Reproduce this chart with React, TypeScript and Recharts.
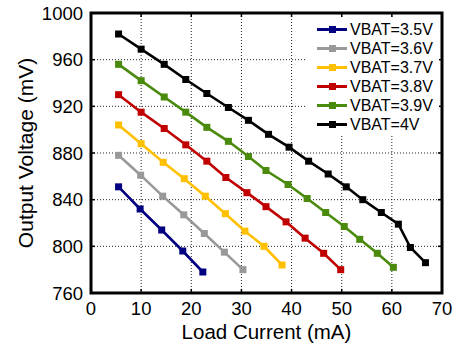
import React from 'react';
import {
  LineChart,
  Line,
  XAxis,
  YAxis,
  CartesianGrid,
  Legend,
  ReferenceArea,
  ReferenceLine,
} from 'recharts';

// Load current (mA) and output voltage (mV) for each battery voltage
const current35 = [5.5, 9.8, 14.1, 18.3, 22.3];
const vout35 = [851, 832, 814, 796, 778];

const current36 = [5.5, 9.9, 14.3, 18.5, 22.6, 26.6, 30.3];
const vout36 = [878, 861, 843, 827, 811, 795, 780];

const current37 = [5.5, 10, 14.4, 18.6, 22.8, 26.8, 30.7, 34.5, 38.1];
const vout37 = [904, 888, 872, 858, 843, 828, 813, 800, 784];

const current38 = [5.5, 10, 14.6, 18.9, 23.1, 26.9, 31.1, 34.9, 38.9, 42.7, 46.4, 49.8];
const vout38 = [930, 915, 901, 887, 873, 859, 846, 834, 821, 807, 794, 780];

const current39 = [5.5, 10, 14.6, 18.9, 23.1, 27.4, 31.4, 34.9, 39.3, 43.1, 46.8, 50.5, 53.6, 57.1, 60.3];
const vout39 = [956, 942, 928, 915, 902, 890, 877, 865, 853, 841, 829, 817, 806, 794, 782];

const current40 = [5.5, 10, 14.6, 18.9, 23.1, 27.4, 31.4, 35.4, 39.5, 43.4, 47.3, 50.9, 54.2, 57.9, 61.3, 63.7, 66.7];
const vout40 = [982, 969, 956, 943, 931, 919, 908, 896, 885, 873, 862, 851, 840, 829, 819, 799, 786];

const seriesNames = ['VBAT=3.5V', 'VBAT=3.6V', 'VBAT=3.7V', 'VBAT=3.8V', 'VBAT=3.9V', 'VBAT=4V'];
const seriesColors = ['#000080', '#999999', '#FFC000', '#C00000', '#4A8A0C', '#000000'];
const seriesCurrents = [current35, current36, current37, current38, current39, current40];
const seriesVoltages = [vout35, vout36, vout37, vout38, vout39, vout40];

const xTicks = [0, 10, 20, 30, 40, 50, 60, 70];
const yTicks = [760, 800, 840, 880, 920, 960, 1000];

const FONT = '"Liberation Sans", Arial, Helvetica, sans-serif';

const series = seriesNames.map((name, i) => ({
  name,
  color: seriesColors[i],
  data: seriesCurrents[i].map((x, j) => ({ x, y: seriesVoltages[i][j] })),
}));

const squareDot = (color: string) => (props: any) => {
  const { cx, cy, index } = props;
  if (cx == null || cy == null) return <g key={index} />;
  return <rect key={index} x={cx - 3.5} y={cy - 3.5} width={7} height={7} fill={color} />;
};

const XTitle = (props: any) => {
  const { viewBox } = props;
  const cx = viewBox.x + viewBox.width / 2;
  return (
    <text x={cx} y={339} textAnchor="middle" fontSize={20.5} fontFamily={FONT} fill="#000">
      Load Current (mA)
    </text>
  );
};

const YTitle = (props: any) => {
  const { viewBox } = props;
  const cy = viewBox.y + viewBox.height / 2;
  const cx = 33;
  return (
    <text
      x={cx}
      y={cy}
      transform={`rotate(-90, ${cx}, ${cy})`}
      textAnchor="middle"
      fontSize={21}
      fontFamily={FONT}
      fill="#000"
    >
      Output Voltage (mV)
    </text>
  );
};

const LegendBox = (props: any) => {
  const payload = props.payload || [];
  return (
    <div
      style={{
        background: '#fff',
        paddingTop: 3,
        paddingBottom: 2,
        fontFamily: FONT,
        fontSize: 16,
        color: '#000',
      }}
    >
      {payload.map((entry: any) => (
        <div key={entry.value} style={{ display: 'flex', alignItems: 'center', height: 19 }}>
          <svg width={43} height={19} style={{ display: 'block' }}>
            <line x1={10} y1={9.5} x2={40} y2={9.5} stroke={entry.color} strokeWidth={3} />
            <rect x={22} y={6} width={7} height={7} fill={entry.color} />
          </svg>
          <span style={{ lineHeight: '19px', whiteSpace: 'nowrap' }}>{entry.value}</span>
        </div>
      ))}
    </div>
  );
};

export default function App() {
  return (
    <div style={{ position: 'absolute', left: 0, top: 0, width: 458, height: 345, background: '#fff' }}>
      <LineChart
        width={458}
        height={345}
        margin={{ top: 13, right: 16, bottom: 0, left: 0 }}
        style={{ fontFamily: FONT }}
      >
        <CartesianGrid
          stroke="#222"
          strokeWidth={1}
          strokeDasharray="1 2"
          verticalValues={[10, 20, 30, 40, 50, 60]}
          horizontalValues={[800, 840, 880, 920, 960]}
        />
        <XAxis
          dataKey="x"
          type="number"
          domain={[0, 70]}
          ticks={xTicks}
          allowDataOverflow
          height={52}
          axisLine={false}
          tickLine={false}
          tickSize={7}
          tickMargin={2}
          tick={{ fontSize: 18.5, fill: '#000', fontFamily: FONT }}
          label={<XTitle />}
        />
        <YAxis
          type="number"
          domain={[760, 1000]}
          ticks={yTicks}
          allowDataOverflow
          width={91}
          axisLine={false}
          tickLine={false}
          tickSize={6}
          tickMargin={2}
          tick={{ fontSize: 18.5, fill: '#000', fontFamily: FONT }}
          label={<YTitle />}
        />
        {/* inward tick marks on all four sides */}
        {xTicks.slice(1, -1).map((t) => (
          <ReferenceLine
            key={`xb${t}`}
            segment={[{ x: t, y: 760 }, { x: t, y: 763.5 }]}
            stroke="#000"
            strokeWidth={1.5}
          />
        ))}
        {xTicks.slice(1, -1).map((t) => (
          <ReferenceLine
            key={`xt${t}`}
            segment={[{ x: t, y: 1000 }, { x: t, y: 996.5 }]}
            stroke="#000"
            strokeWidth={1.5}
          />
        ))}
        {yTicks.slice(1, -1).map((t) => (
          <ReferenceLine
            key={`yl${t}`}
            segment={[{ x: 0, y: t }, { x: 0.8, y: t }]}
            stroke="#000"
            strokeWidth={1.5}
          />
        ))}
        {yTicks.slice(1, -1).map((t) => (
          <ReferenceLine
            key={`yr${t}`}
            segment={[{ x: 70, y: t }, { x: 69.2, y: t }]}
            stroke="#000"
            strokeWidth={1.5}
          />
        ))}
        {series.map((s) => (
          <Line
            key={s.name}
            data={s.data}
            dataKey="y"
            name={s.name}
            stroke={s.color}
            strokeWidth={2.6}
            dot={squareDot(s.color)}
            activeDot={false}
            isAnimationActive={false}
          />
        ))}
        <ReferenceArea
          x1={0}
          x2={70}
          y1={760}
          y2={1000}
          fill="none"
          fillOpacity={0}
          stroke="#000"
          strokeWidth={3}
        />
        <Legend
          layout="horizontal"
          verticalAlign="middle"
          align="center"
          content={<LegendBox />}
          wrapperStyle={{ position: 'absolute', left: 307, top: 17, width: 132, height: 'auto' }}
        />
      </LineChart>
    </div>
  );
}
